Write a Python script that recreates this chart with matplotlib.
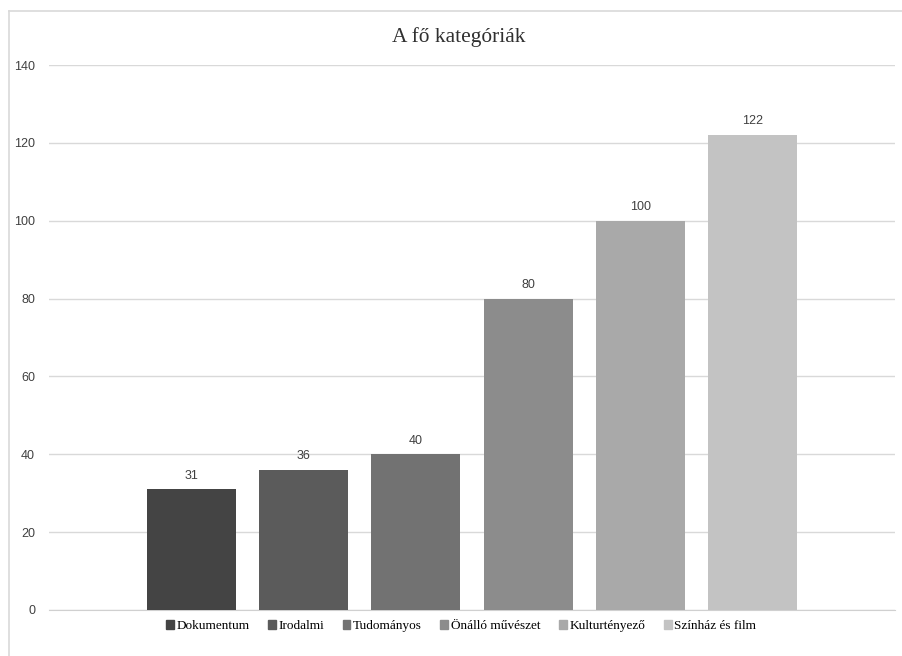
import matplotlib.pyplot as plt
from matplotlib.lines import Line2D

categories = ['Dokumentum', 'Irodalmi', 'Tudományos', 'Önálló művészet', 'Kulturtényező', 'Színház és film']
values = [31, 36, 40, 80, 100, 122]
colors = ['#444444', '#5b5b5b', '#727272', '#8c8c8c', '#a9a9a9', '#c3c3c3']
yticks = [0, 20, 40, 60, 80, 100, 120, 140]

fig = plt.figure(figsize=(9.02, 6.56), dpi=100)
ax = fig.add_axes([49 / 902, 46 / 656, 846 / 902, 545 / 656])

# chart frame (only left and top edge visible in the picture)
fig.add_artist(Line2D([9 / 902, 9 / 902], [0, 1 - 11 / 656], color='#d9d9d9', lw=1.2,
                      transform=fig.transFigure))
fig.add_artist(Line2D([9 / 902, 1], [1 - 11 / 656, 1 - 11 / 656], color='#d9d9d9', lw=1.2,
                      transform=fig.transFigure))

x = list(range(len(categories)))
bars = ax.bar(x, values, width=0.79, color=colors, label=categories, zorder=3)
for rect, v in zip(bars, values):
    ax.text(rect.get_x() + rect.get_width() / 2, v + 2, str(v), ha='center', va='bottom',
            fontsize=9, color='#404040', family='Liberation Sans')

ax.set_xlim(-1.265, 6.265)
ax.set_ylim(0, 140)
ax.set_yticks(yticks)
ax.set_xticks([])
ax.yaxis.grid(True, color='#d9d9d9', lw=1)
ax.set_axisbelow(True)
for s in ['top', 'right', 'left']:
    ax.spines[s].set_visible(False)
ax.spines['bottom'].set_color('#d0d0d0')
ax.tick_params(axis='y', length=0, pad=10, labelsize=9, labelcolor='#404040')
for lbl in ax.get_yticklabels():
    lbl.set_family('Liberation Sans')

fig.text(459 / 902, 1 - 37 / 656, 'A fő kategóriák', ha='center', va='center',
         fontsize=15.4, family='Liberation Serif', color='#303030')

handles = [plt.Rectangle((0, 0), 1, 1, color=c) for c in colors]
fig.legend(handles, categories, loc='center', bbox_to_anchor=(461 / 902, 1 - 626 / 656),
           ncol=6, frameon=False, handlelength=0.6, handleheight=0.6, handletextpad=0.2,
           columnspacing=1.4, prop={'family': 'Liberation Serif', 'size': 9.5})

fig.savefig('out.png', dpi=100)
